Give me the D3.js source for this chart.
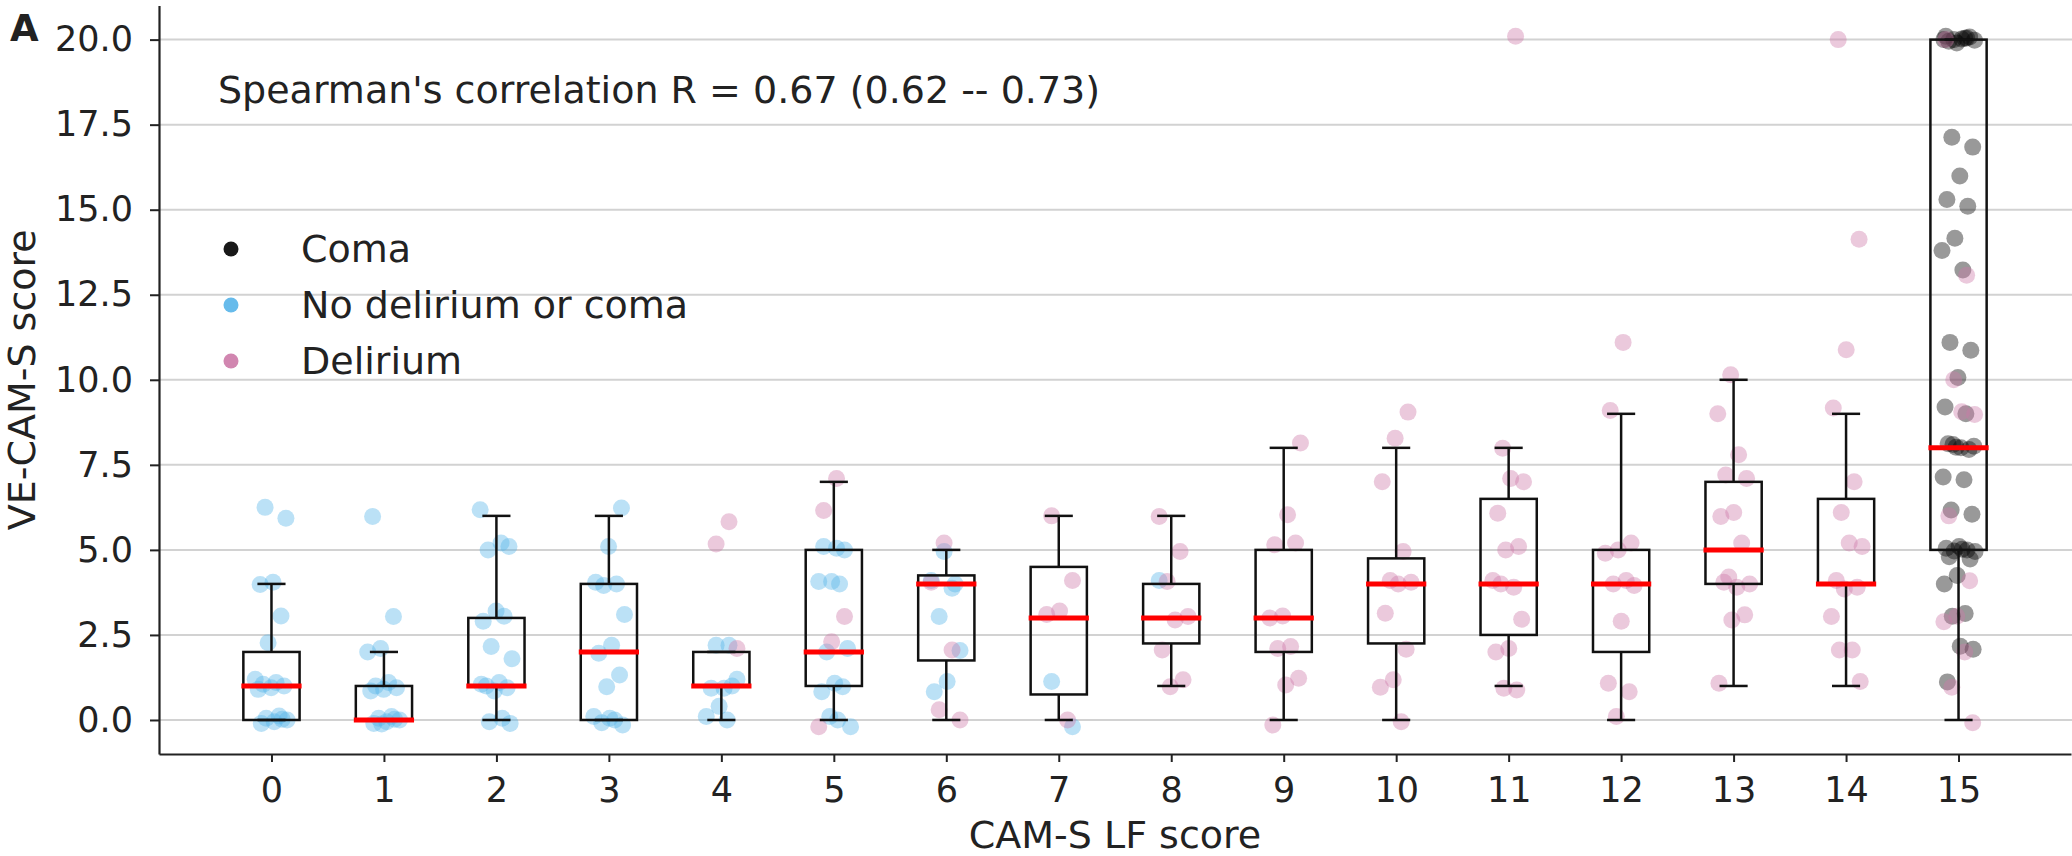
<!DOCTYPE html>
<html lang="en">
<head>
<meta charset="utf-8">
<script src="https://cdn.jsdelivr.net/npm/d3@7"></script>
<style>
  body { margin: 0; background: #fff; }
  svg text { font-family: "DejaVu Sans", sans-serif; fill: #222; }
</style>
</head>
<body>
<script>
// categories on the x axis (CAM-S LF score)
var categories = [0, 1, 2, 3, 4, 5, 6, 7, 8, 9, 10, 11, 12, 13, 14, 15];
var yTicks = [0, 2.5, 5, 7.5, 10, 12.5, 15, 17.5, 20];

// box statistics per category
var q1      = [0, 0, 1, 0, 1, 1, 1.75, 0.75, 2.25, 2, 2.25, 2.5, 2, 4, 4, 5];
var medians = [1, 0, 1, 2, 1, 2, 4, 3, 3, 3, 4, 4, 4, 5, 4, 8];
var q3      = [2, 1, 3, 4, 2, 5, 4.25, 4.5, 4, 5, 4.75, 6.5, 5, 7, 6.5, 20];
var whiskLo = [0, 0, 0, 0, 0, 0, 0, 0, 1, 0, 0, 1, 0, 1, 1, 0];
var whiskHi = [4, 2, 6, 6, 2, 7, 5, 6, 6, 8, 8, 8, 9, 10, 9, 20];

// observed VE-CAM-S scores per category, one list per group
var noDelirium = [
  [6.25, 5.93, 4.05, 3.98, 3.06, 2.27, 1.2, 1.1, 1.05, 1.0, 0.95, 0.9, 0.12, 0.05, 0.0, -0.05, -0.1, 0.02],
  [5.98, 3.04, 2.1, 2.0, 1.1, 1.0, 0.95, 0.9, 0.85, 0.1, 0.05, 0.0, -0.05, -0.1, 0.02, -0.12],
  [6.18, 5.2, 5.0, 5.1, 3.2, 2.9, 3.05, 2.16, 1.8, 1.1, 1.0, 0.95, 0.85, 1.05, 0.05, -0.05, -0.1],
  [6.23, 5.1, 4.05, 4.0, 3.95, 3.1, 2.2, 1.96, 1.32, 0.98, 0.1, 0.0, -0.08, -0.15, 0.05],
  [2.2, 2.2, 1.2, 0.93, 0.93, 1.0, 0.4, 0.1, 0.0],
  [5.05, 5.1, 5.0, 4.07, 4.07, 4.0, 2.0, 2.1, 1.08, 0.83, 0.98, 0.1, -0.2, 0.0],
  [4.95, 4.1, 3.87, 3.04, 2.04, 1.13, 0.83, 4.0],
  [1.13, -0.2],
  [4.1],
  [], [], [], [], [], [], []
];
var delirium = [
  [], [], [], [],
  [5.83, 5.17, 2.1],
  [7.1, 6.16, 3.04, 2.3, -0.2],
  [5.2, 4.05, 2.06, 0.3, 0.0],
  [6.0, 4.1, 3.2, 3.1, 0.0],
  [5.98, 4.95, 4.07, 3.04, 2.94, 2.06, 1.18, 0.98],
  [8.14, 6.03, 5.15, 5.2, 3.06, 3.0, 2.16, 2.1, 1.23, 1.03, -0.15],
  [9.05, 8.28, 7.0, 4.95, 4.1, 4.05, 4.0, 3.14, 2.08, 1.18, 0.96, -0.05],
  [20.1, 7.99, 7.0, 7.1, 6.08, 5.1, 5.0, 4.1, 3.9, 4.0, 2.96, 2.1, 2.0, 0.88, 0.93],
  [11.1, 9.1, 5.2, 5.0, 4.9, 4.1, 4.0, 3.95, 2.9, 1.08, 0.83, 0.1],
  [10.15, 9.0, 7.8, 7.2, 7.1, 6.1, 5.98, 5.2, 4.2, 4.0, 3.9, 4.05, 3.09, 2.94, 1.08],
  [20.0, 14.13, 10.88, 9.17, 7.0, 6.1, 5.1, 5.2, 4.1, 3.9, 3.85, 3.04, 2.06, 2.06, 1.13],
  [20.0, 13.07, 10.0, 8.98, 9.06, 6.0, 4.09, 3.05, 2.89, 2.0, 0.96, -0.08]
];
var coma = [
  [], [], [], [], [], [], [], [], [], [], [], [], [], [], [],
  [20.1, 20.05, 20.0, 19.98, 20.02, 19.95, 20.08, 19.9, 20.0, 20.04,
   17.13, 16.84, 15.99, 15.3, 15.1, 14.16, 13.8, 13.23, 11.1, 10.87, 10.07, 9.2, 9.0,
   8.1, 8.05, 8.0, 8.12, 7.95, 8.02, 7.14, 7.06, 6.17, 6.05,
   5.1, 5.05, 5.0, 4.97, 4.95, 5.02, 4.8, 4.73, 4.25, 4.0, 3.13, 3.05, 2.08, 2.17, 1.12]
];

var groups = [
  {name: "Coma", color: "#000000", values: coma},
  {name: "No delirium or coma", color: "#56B4E9", values: noDelirium},
  {name: "Delirium", color: "#CC79A7", values: delirium}
];

var w = 2072, h = 856;
var margin = {left: 159, right: 1, top: 5.6, bottom: 102};

var svg = d3.select("body").append("svg")
  .attr("width", w)
  .attr("height", h);

var xscale = d3.scaleLinear()
  .domain([-1, 16])
  .range([margin.left, w - margin.right]);
var yscale = d3.scaleLinear()
  .domain([-1, 21])
  .range([h - margin.bottom, margin.top]);

// horizontal grid
svg.append("g").selectAll("line")
  .data(yTicks)
  .enter().append("line")
  .attr("x1", margin.left)
  .attr("x2", w)
  .attr("y1", function(d) { return yscale(d); })
  .attr("y2", function(d) { return yscale(d); })
  .attr("stroke", "#d2d2d2")
  .attr("stroke-width", 2);

// jittered points, fixed offset sequence so the picture is stable
function jitter(i) {
  return (((i * 0.6180339887 + 0.31) % 1) - 0.5) * 0.3;
}
var points = [];
groups.forEach(function(g) {
  g.values.forEach(function(vals, ci) {
    vals.forEach(function(v, i) {
      points.push({cat: categories[ci], value: v, color: g.color, j: jitter(i + ci * 3)});
    });
  });
});
svg.append("g").selectAll("circle")
  .data(points)
  .enter().append("circle")
  .attr("cx", function(d) { return xscale(d.cat + d.j); })
  .attr("cy", function(d) { return yscale(d.value); })
  .attr("r", 8.5)
  .attr("fill", function(d) { return d.color; })
  .attr("fill-opacity", 0.4);

// box plots
var boxW = 0.5, capW = 0.25;
var boxes = svg.append("g").selectAll("g")
  .data(categories)
  .enter().append("g");
boxes.append("line")
  .attr("x1", function(d) { return xscale(d); })
  .attr("x2", function(d) { return xscale(d); })
  .attr("y1", function(d, i) { return yscale(whiskLo[i]); })
  .attr("y2", function(d, i) { return yscale(q1[i]); })
  .attr("stroke", "#111").attr("stroke-width", 2.5);
boxes.append("line")
  .attr("x1", function(d) { return xscale(d); })
  .attr("x2", function(d) { return xscale(d); })
  .attr("y1", function(d, i) { return yscale(q3[i]); })
  .attr("y2", function(d, i) { return yscale(whiskHi[i]); })
  .attr("stroke", "#111").attr("stroke-width", 2.5);
[whiskLo, whiskHi].forEach(function(arr) {
  boxes.append("line")
    .attr("x1", function(d) { return xscale(d - capW / 2); })
    .attr("x2", function(d) { return xscale(d + capW / 2); })
    .attr("y1", function(d, i) { return yscale(arr[i]); })
    .attr("y2", function(d, i) { return yscale(arr[i]); })
    .attr("stroke", "#111").attr("stroke-width", 2.5);
});
boxes.append("rect")
  .attr("x", function(d) { return xscale(d - boxW / 2); })
  .attr("width", xscale(boxW) - xscale(0))
  .attr("y", function(d, i) { return yscale(q3[i]); })
  .attr("height", function(d, i) { return yscale(q1[i]) - yscale(q3[i]); })
  .attr("fill", "none")
  .attr("stroke", "#111").attr("stroke-width", 2.5);
boxes.append("line")
  .attr("x1", function(d) { return xscale(d - boxW / 2) - 2; })
  .attr("x2", function(d) { return xscale(d + boxW / 2) + 2; })
  .attr("y1", function(d, i) { return yscale(medians[i]); })
  .attr("y2", function(d, i) { return yscale(medians[i]); })
  .attr("stroke", "#ff0000").attr("stroke-width", 5);

// axes
var xaxis = d3.axisBottom(xscale)
  .tickValues(categories)
  .tickFormat(d3.format("d"))
  .tickSize(8).tickSizeOuter(0).tickPadding(15);
var yaxis = d3.axisLeft(yscale)
  .tickValues(yTicks)
  .tickFormat(d3.format(".1f"))
  .tickSize(9).tickSizeOuter(0).tickPadding(17);

svg.append("g")
  .attr("transform", "translate(0," + (h - margin.bottom) + ")")
  .call(xaxis);
svg.append("g")
  .attr("transform", "translate(" + margin.left + ",0)")
  .call(yaxis);
svg.selectAll(".domain").attr("stroke", "#222").attr("stroke-width", 2.2);
svg.selectAll(".tick line").attr("stroke", "#222").attr("stroke-width", 2);
svg.selectAll(".tick text")
  .style("font-size", "35px")
  .style("font-family", "DejaVu Sans")
  .attr("fill", "#222");

// axis titles
svg.append("text")
  .attr("x", (margin.left + w - margin.right) / 2)
  .attr("y", 848)
  .style("text-anchor", "middle")
  .style("font-size", "38px")
  .text("CAM-S LF score");
svg.append("text")
  .attr("transform", "translate(35," + (yscale(10)) + ") rotate(-90)")
  .style("text-anchor", "middle")
  .style("font-size", "38px")
  .text("VE-CAM-S score");

// panel letter and annotation
svg.append("text")
  .attr("x", 10).attr("y", 41)
  .style("font-size", "37px")
  .style("font-weight", "bold")
  .attr("fill", "#000")
  .text("A");
svg.append("text")
  .attr("x", 218).attr("y", 103)
  .style("font-size", "38px")
  .text("Spearman's correlation R = 0.67 (0.62 -- 0.73)");

// legend
var legend = svg.append("g").selectAll("g")
  .data(groups)
  .enter().append("g")
  .attr("transform", function(d, i) { return "translate(231," + (249 + i * 56) + ")"; });
legend.append("circle")
  .attr("r", 7.5)
  .attr("fill", function(d) { return d.color; })
  .attr("fill-opacity", 0.9);
legend.append("text")
  .attr("x", 70)
  .attr("dy", "0.35em")
  .style("font-size", "38px")
  .text(function(d) { return d.name; });
</script>
</body>
</html>
